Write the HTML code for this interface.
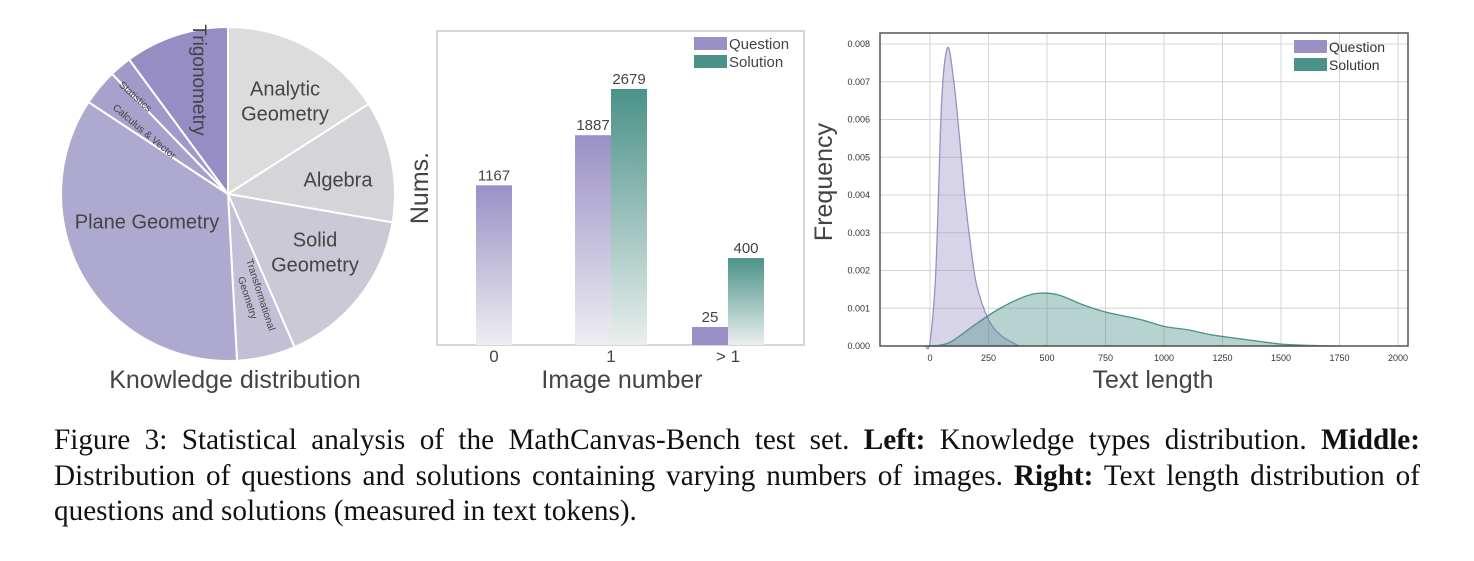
<!DOCTYPE html>
<html><head><meta charset="utf-8"><style>
body{margin:0;background:#fff;width:1474px;height:561px;overflow:hidden;position:relative;font-family:"Liberation Serif",serif}
svg{position:absolute;left:0;top:0}
.cap{position:absolute;left:54px;width:1366px;font-size:29.2px;line-height:35.5px;color:#111;top:423px}
.cap div{white-space:nowrap;text-align:justify;text-align-last:justify}
.cap div.last{text-align-last:left}
</style></head><body>
<svg width="1474" height="420" font-family="'Liberation Sans', sans-serif">
<defs>
<linearGradient id="gq" x1="0" y1="0" x2="0" y2="1"><stop offset="0" stop-color="#9a90c6"/><stop offset="1" stop-color="#eeedf0"/></linearGradient>
<linearGradient id="gs" x1="0" y1="0" x2="0" y2="1"><stop offset="0" stop-color="#4a9288"/><stop offset="1" stop-color="#eaefed"/></linearGradient>
</defs>
<g id="pie"></g>
<text x="235" y="388" font-size="25" fill="#444" text-anchor="middle">Knowledge distribution</text>
<g id="bar"></g>
<g id="kde"></g>
</svg>
<div class="cap">
<div>Figure 3: Statistical analysis of the MathCanvas-Bench test set. <b>Left:</b> Knowledge types distribution. <b>Middle:</b></div>
<div>Distribution of questions and solutions containing varying numbers of images. <b>Right:</b> Text length distribution of</div>
<div class="last">questions and solutions (measured in text tokens).</div>
</div>
<script>
const NS="http://www.w3.org/2000/svg";
function mk(p,t,a){const e=document.createElementNS(NS,t);for(const k in a)e.setAttribute(k,a[k]);p.appendChild(e);return e;}
// ---- Pie data ----
const pieLabels=["Analytic Geometry","Algebra","Solid Geometry","Transformational Geometry","Plane Geometry","Calculus & Vector","Statistics","Trigonometry"];
const pieValues=[57.4,42.4,56.7,20.4,126.5,12.6,7.7,36.3];
const pieColors=["#dcdcdc","#d5d4d9","#cbc9d6","#c2bfd7","#aea9cf","#a7a1cc","#a19ac8","#958dc3"];
// ---- Bar data ----
const barCats=["0","1","> 1"];
const questionCounts=[1167,1887,25];
const solutionCounts=[null,2679,400];
// ---- KDE data ----
const qX=[-20,0,25,50,75,100,125,150,175,200,250,300,350,380];
const qY=[0,0.0001,0.002,0.0065,0.0079,0.0071,0.0056,0.0039,0.0026,0.0016,0.0007,0.0003,0.0001,0];
const sX=[-10,50,100,200,300,400,470,550,650,750,900,1000,1100,1200,1300,1400,1500,1600,1750];
const sY=[0,0.00003,0.00015,0.0006,0.001,0.0013,0.0014,0.00135,0.0011,0.0009,0.0007,0.00052,0.00043,0.0003,0.00021,0.00013,0.00005,0.00002,0];
const xTicks=[0,250,500,750,1000,1250,1500,1750,2000];
const yTicks=[0,0.001,0.002,0.003,0.004,0.005,0.006,0.007,0.008];

// Pie
(function(){
 const g=document.getElementById('pie');const cx=228,cy=194,r=167;
 const tot=pieValues.reduce((a,b)=>a+b,0);let a0=0;
 const pt=(a,rr)=>[cx+rr*Math.sin(a),cy-rr*Math.cos(a)];
 pieValues.forEach((v,i)=>{
  const a1=a0+v/tot*2*Math.PI;const p0=pt(a0,r),p1=pt(a1,r);
  const p=mk(g,'path',{d:`M${cx},${cy}L${p0[0]},${p0[1]}A${r},${r} 0 ${a1-a0>Math.PI?1:0} 1 ${p1[0]},${p1[1]}Z`,fill:pieColors[i],stroke:'#fff','stroke-width':2});
  
  
  a0=a1;
 });
 const L=[["Analytic",285,90,20,0],["Geometry",285,115,20,0],["Algebra",338,181,20,0],["Solid",315,241,20,0],["Geometry",315,266,20,0],["Plane Geometry",147,223,20,0],
 ["Trigonometry",198,80,19,90],["Statistics",135,97,10,42],["Calculus & Vector",144,132,10,40],["Transformational",260,295,10,72],["Geometry",247,298,10,72]];
 L.forEach(l=>{const t=mk(g,'text',{x:l[1],y:l[2],'font-size':l[3],fill:'#444','text-anchor':'middle','dominant-baseline':'middle',transform:`rotate(${l[4]} ${l[1]} ${l[2]})`});t.textContent=l[0];
  
  });
})();

// Bar
(function(){
 const g=document.getElementById('bar');const base=345,H=256,vmax=2679,bw=36;
 const y=v=>base-H*Math.pow(v/vmax,0.568);
 const x=i=>494+i*117;
 const f=mk(g,'rect',{x:437,y:31,width:367,height:314,fill:'none',stroke:'#d6d6d6','stroke-width':2});
 
 barCats.forEach((c,i)=>{
  const hasS=solutionCounts[i]!=null;
  const qx=hasS?x(i)-bw:x(i)-bw/2;
  const qb=mk(g,'rect',{x:qx,y:y(questionCounts[i]),width:bw,height:base-y(questionCounts[i]),fill:i==2?'#9a90c6':'url(#gq)'});
  
  const qt=mk(g,'text',{x:qx+bw/2,y:y(questionCounts[i])-5,'font-size':15,fill:'#444','text-anchor':'middle'});qt.textContent=questionCounts[i];
  
  if(hasS){const sb=mk(g,'rect',{x:x(i),y:y(solutionCounts[i]),width:bw,height:base-y(solutionCounts[i]),fill:'url(#gs)'});
   
   const st=mk(g,'text',{x:x(i)+bw/2,y:y(solutionCounts[i])-5,'font-size':15,fill:'#444','text-anchor':'middle'});st.textContent=solutionCounts[i];
   }
  const tk=mk(g,'text',{x:x(i),y:362,'font-size':17,fill:'#444','text-anchor':'middle'});tk.textContent=c;
  
 });
 const xt=mk(g,'text',{x:622,y:388,'font-size':25,fill:'#444','text-anchor':'middle'});xt.textContent='Image number';
 
 const yt=mk(g,'text',{x:428,y:188,'font-size':25,fill:'#444','text-anchor':'middle',transform:'rotate(-90 428 188)'});yt.textContent='Nums.';
 
 [["Question",'#9a90c6',37],["Solution",'#4a9288',55]].forEach(l=>{
  const r=mk(g,'rect',{x:694,y:l[2],width:33,height:13,fill:l[1]});
  const t=mk(g,'text',{x:729,y:l[2]+12,'font-size':15,fill:'#444'});t.textContent=l[0];});
})();

// KDE
(function(){
 const g=document.getElementById('kde');const L=880,R=1408,T=33,B=346;
 const x=v=>930+(v/2000)*468;const y=v=>B-(v/0.008)*302;
 mk(g,'rect',{x:L,y:T,width:R-L,height:B-T,fill:'#fff'});
 xTicks.forEach(v=>{const l=mk(g,'line',{x1:x(v),x2:x(v),y1:T,y2:B,stroke:'#d4d4d4','stroke-width':1});
  const t=mk(g,'text',{x:x(v),y:B+15,'font-size':9,fill:'#333','text-anchor':'middle'});t.textContent=v;});
 yTicks.forEach(v=>{const l=mk(g,'line',{x1:L,x2:R,y1:y(v),y2:y(v),stroke:'#d4d4d4','stroke-width':1});
  const t=mk(g,'text',{x:L-10,y:y(v)+3,'font-size':9,fill:'#333','text-anchor':'end'});t.textContent=v.toFixed(3);});
 function area(X,Y,fill,stroke,name){
  let d=`M${x(X[0])},${y(0)}`;
  const P=X.map((v,i)=>[x(v),y(Y[i])]);d+=`L${P[0][0]},${P[0][1]}`;
  for(let i=0;i<P.length-1;i++){const p0=P[Math.max(0,i-1)],p1=P[i],p2=P[i+1],p3=P[Math.min(P.length-1,i+2)];
   d+=`C${p1[0]+(p2[0]-p0[0])/6},${p1[1]+(p2[1]-p0[1])/6} ${p2[0]-(p3[0]-p1[0])/6},${p2[1]-(p3[1]-p1[1])/6} ${p2[0]},${p2[1]}`;}
  d+=`L${x(X[X.length-1])},${y(0)}Z`;
  const p=mk(g,'path',{d:d,fill:fill,stroke:stroke,'stroke-width':1.3});
  
 }
 area(qX,qY,'rgba(154,144,198,0.4)','#9a90c6','question-density');
 area(sX,sY,'rgba(74,146,136,0.4)','#4a9288','solution-density');
 const f=mk(g,'rect',{x:L,y:T,width:R-L,height:B-T,fill:'none',stroke:'#555','stroke-width':1.5});
 const xt=mk(g,'text',{x:1153,y:388,'font-size':25,fill:'#444','text-anchor':'middle'});xt.textContent='Text length';
 const yt=mk(g,'text',{x:832,y:182,'font-size':25,fill:'#444','text-anchor':'middle',transform:'rotate(-90 832 182)'});yt.textContent='Frequency';
 [["Question",'#9a90c6',40],["Solution",'#4a9288',58]].forEach(l=>{
  const r=mk(g,'rect',{x:1294,y:l[2],width:33,height:13,fill:l[1]});
  const t=mk(g,'text',{x:1329,y:l[2]+12,'font-size':14,fill:'#333'});t.textContent=l[0];});
})();
</script>
</body></html>
